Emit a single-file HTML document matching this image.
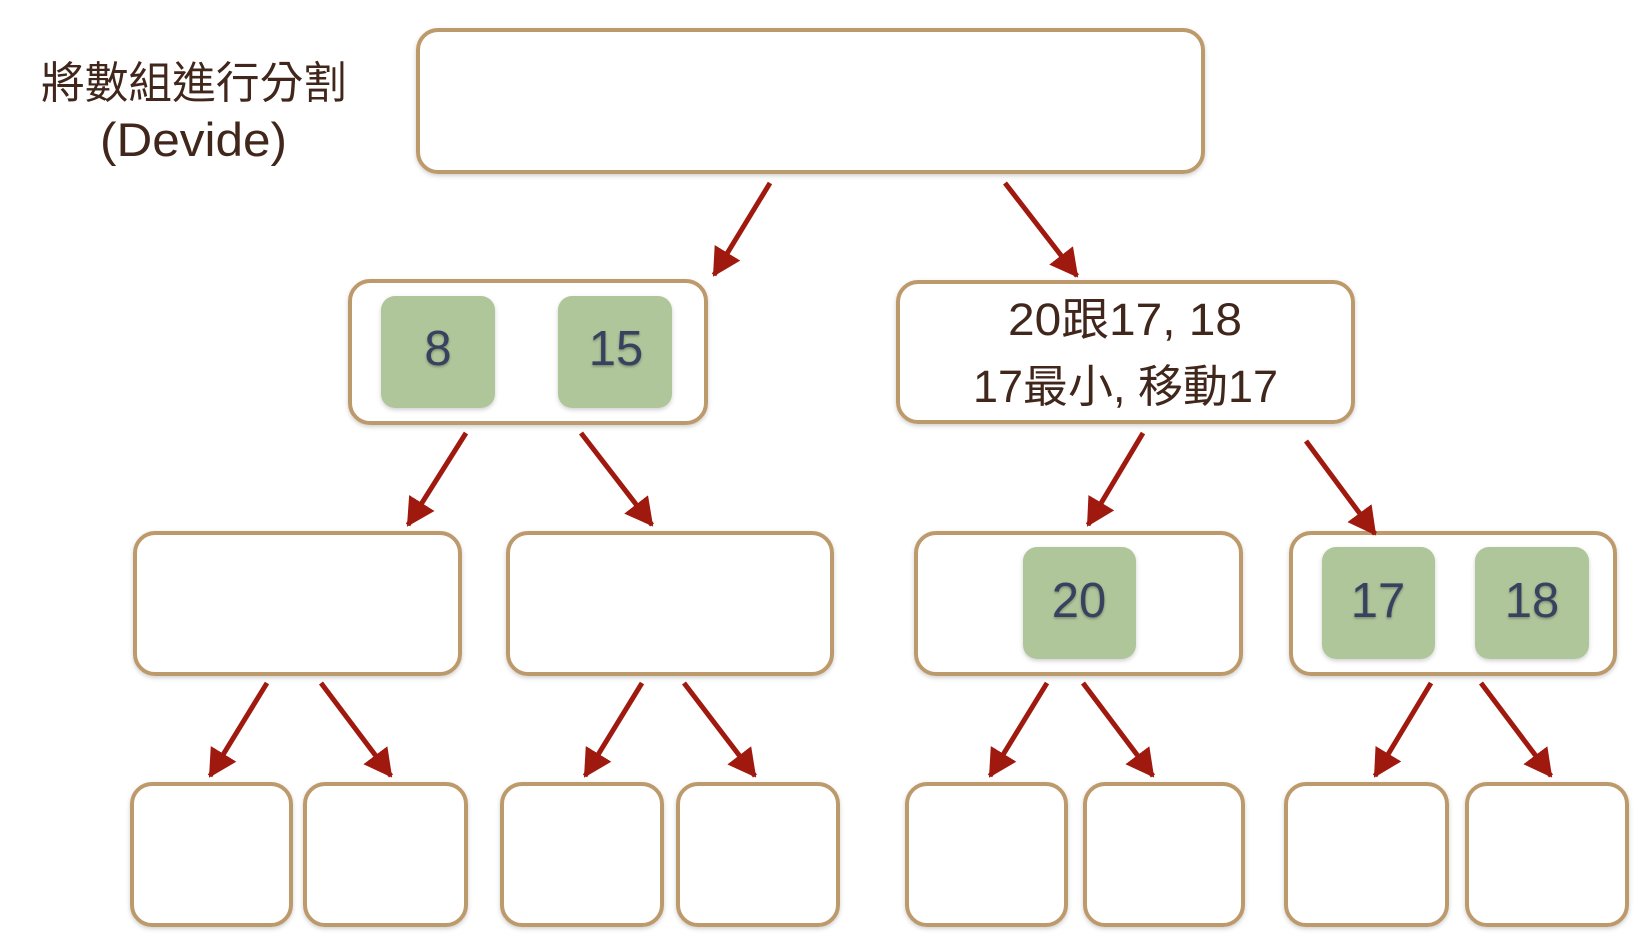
<!DOCTYPE html>
<html>
<head>
<meta charset="utf-8">
<style>
  html,body{margin:0;padding:0;background:#fff;}
  svg{display:block;}
  .box{fill:#fff;stroke:#bd9a6c;stroke-width:4;}
  .g{fill:#afc59a;}
  .num{font-family:"Liberation Sans",sans-serif;font-size:49px;fill:#38435f;text-anchor:middle;}
  .t{font-family:"Liberation Sans","Noto Sans CJK TC",sans-serif;fill:#41261b;}
  .ar{stroke:#a0190f;stroke-width:5;fill:none;marker-end:url(#ah);}
</style>
</head>
<body>
<svg width="1648" height="946" viewBox="0 0 1648 946" xmlns="http://www.w3.org/2000/svg">
  <defs>
    <filter id="sh" x="-10%" y="-10%" width="120%" height="130%">
      <feDropShadow dx="0" dy="2" stdDeviation="2" flood-color="#000" flood-opacity="0.18"/>
    </filter>
    <filter id="tsh" x="-10%" y="-10%" width="120%" height="130%">
      <feDropShadow dx="0" dy="1.5" stdDeviation="1.2" flood-color="#000" flood-opacity="0.3"/>
    </filter>
    <marker id="ah" viewBox="0 0 28 30" refX="26" refY="15" markerWidth="28" markerHeight="30" markerUnits="userSpaceOnUse" orient="auto">
      <path d="M0,0 L28,15 L0,30 z" fill="#a0190f"/>
    </marker>
  </defs>

  <!-- Title -->
  <text class="t" x="41" y="98" font-size="44" textLength="306" lengthAdjust="spacingAndGlyphs">將數組進行分割</text>
  <text class="t" x="100" y="156" font-size="47" textLength="187" lengthAdjust="spacingAndGlyphs">(Devide)</text>

  <!-- Level 1 -->
  <rect class="box" filter="url(#sh)" x="418" y="30" width="785" height="142" rx="20"/>

  <!-- Level 2 -->
  <rect class="box" filter="url(#sh)" x="350" y="281" width="356" height="142" rx="20"/>
  <rect class="g" filter="url(#sh)" x="381" y="296" width="114" height="112" rx="14"/>
  <rect class="g" filter="url(#sh)" x="558" y="296" width="114" height="112" rx="14"/>
  <text class="num" filter="url(#tsh)" x="438" y="365">8</text>
  <text class="num" filter="url(#tsh)" x="616" y="365">15</text>

  <rect class="box" filter="url(#sh)" x="898" y="282" width="455" height="140" rx="20"/>
  <text class="t" x="1008" y="335" font-size="45" textLength="234" lengthAdjust="spacingAndGlyphs">20跟17, 18</text>
  <text class="t" x="973" y="402" font-size="45" textLength="305" lengthAdjust="spacingAndGlyphs">17最小, 移動17</text>

  <!-- Level 3 -->
  <rect class="box" filter="url(#sh)" x="135" y="533" width="325" height="141" rx="20"/>
  <rect class="box" filter="url(#sh)" x="508" y="533" width="324" height="141" rx="20"/>
  <rect class="box" filter="url(#sh)" x="916" y="533" width="325" height="141" rx="20"/>
  <rect class="box" filter="url(#sh)" x="1291" y="533" width="324" height="141" rx="20"/>
  <rect class="g" filter="url(#sh)" x="1023" y="547" width="113" height="112" rx="14"/>
  <rect class="g" filter="url(#sh)" x="1322" y="547" width="113" height="112" rx="14"/>
  <rect class="g" filter="url(#sh)" x="1475" y="547" width="114" height="112" rx="14"/>
  <text class="num" filter="url(#tsh)" x="1079" y="617">20</text>
  <text class="num" filter="url(#tsh)" x="1378" y="617">17</text>
  <text class="num" filter="url(#tsh)" x="1532" y="617">18</text>

  <!-- Level 4 -->
  <rect class="box" filter="url(#sh)" x="132" y="784" width="159" height="141" rx="20"/>
  <rect class="box" filter="url(#sh)" x="305" y="784" width="161" height="141" rx="20"/>
  <rect class="box" filter="url(#sh)" x="502" y="784" width="160" height="141" rx="20"/>
  <rect class="box" filter="url(#sh)" x="678" y="784" width="160" height="141" rx="20"/>
  <rect class="box" filter="url(#sh)" x="907" y="784" width="159" height="141" rx="20"/>
  <rect class="box" filter="url(#sh)" x="1085" y="784" width="158" height="141" rx="20"/>
  <rect class="box" filter="url(#sh)" x="1286" y="784" width="161" height="141" rx="20"/>
  <rect class="box" filter="url(#sh)" x="1467" y="784" width="160" height="141" rx="20"/>

  <!-- Arrows -->
  <line class="ar" x1="770" y1="183" x2="714" y2="275"/>
  <line class="ar" x1="1005" y1="183" x2="1077" y2="276"/>
  <line class="ar" x1="466" y1="433" x2="408" y2="525"/>
  <line class="ar" x1="581" y1="433" x2="652" y2="525"/>
  <line class="ar" x1="1143" y1="433" x2="1088" y2="525"/>
  <line class="ar" x1="1306" y1="441" x2="1375" y2="534"/>
  <line class="ar" x1="267" y1="683" x2="210" y2="776"/>
  <line class="ar" x1="321" y1="683" x2="391" y2="776"/>
  <line class="ar" x1="642" y1="683" x2="585" y2="776"/>
  <line class="ar" x1="684" y1="683" x2="755" y2="776"/>
  <line class="ar" x1="1047" y1="683" x2="990" y2="776"/>
  <line class="ar" x1="1083" y1="683" x2="1153" y2="776"/>
  <line class="ar" x1="1431" y1="683" x2="1375" y2="776"/>
  <line class="ar" x1="1481" y1="683" x2="1551" y2="776"/>
</svg>
</body>
</html>
